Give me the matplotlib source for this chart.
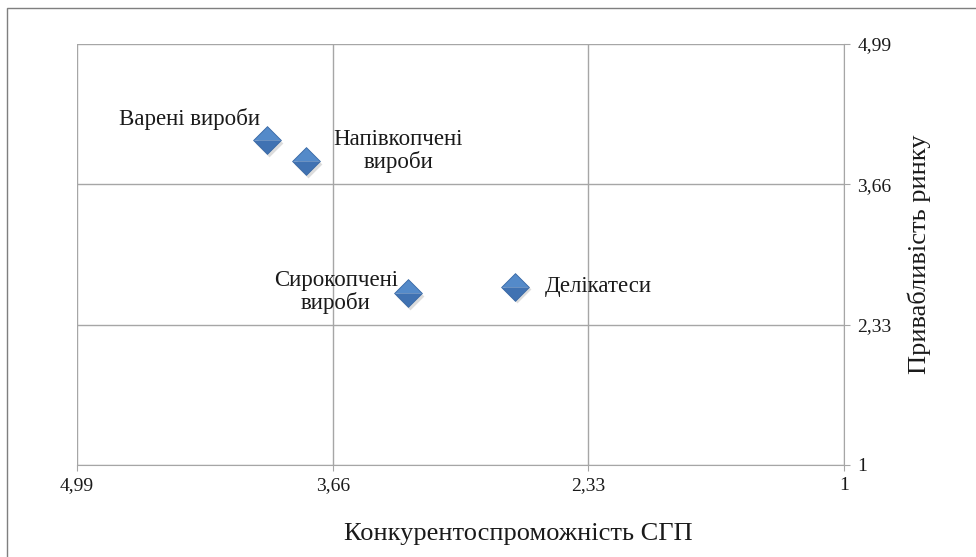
import matplotlib.pyplot as plt
import matplotlib.transforms as mtransforms
from matplotlib.path import Path
from matplotlib.patches import Rectangle

plt.rcParams['font.family'] = ['Liberation Serif', 'DejaVu Serif']

# product groups: competitiveness (x), market attractiveness (y)
names = ['Варені вироби', 'Напівкопчені\nвироби', 'Сирокопчені\nвироби', 'Делікатеси']
competitiveness = [4.00, 3.80, 3.27, 2.71]
attractiveness = [4.08, 3.88, 2.63, 2.69]

ticks = [4.99, 3.66, 2.33, 1]
tick_labels = ['4,99', '3,66', '2,33', '1']

# label offsets in points, alignment
label_pos = [((-5, 15), 'right'),
             ((20, 7), 'left'),
             ((-7, 1), 'right'),
             ((21, 0), 'left')]

fig = plt.figure(figsize=(9.76, 5.57), dpi=100)
ax = fig.add_axes([0.0789, 0.1652, 0.7859, 0.7558])

grey = '#a6a6a6'
ax.set_xlim(4.99, 1)
ax.set_ylim(1, 4.99)
ax.set_xticks(ticks)
ax.set_xticklabels(tick_labels)
ax.set_yticks(ticks)
ax.set_yticklabels(tick_labels)
ax.grid(True, color=grey, lw=1)
ax.set_axisbelow(True)
for s in ax.spines.values():
    s.set_color(grey)
ax.spines['left'].set_visible(False)
ax.spines['top'].set_visible(False)
ax.yaxis.tick_right()
ax.tick_params(axis='x', direction='out', length=4.5, color=grey, labelsize=14,
               pad=4, labelcolor='#1a1a1a')
ax.tick_params(axis='y', direction='out', length=4.5, color=grey, labelsize=14,
               pad=5, labelcolor='#1a1a1a')

# diamond markers: shadow, lighter top half, darker bottom half
top_half = Path([(-1, 0), (0, 1), (1, 0), (-1, 0)], closed=True)
bottom_half = Path([(-1, 0), (0, -1), (1, 0), (-1, 0)], closed=True)
diamond = Path([(-1, 0), (0, 1), (1, 0), (0, -1), (-1, 0)], closed=True)
shadow_tr = mtransforms.offset_copy(ax.transData, fig=fig, x=1.5, y=-2, units='points')
ax.plot(competitiveness, attractiveness, linestyle='none', marker=diamond, markersize=20,
        color='#bbbbbb', alpha=0.5, markeredgewidth=0, transform=shadow_tr, zorder=2)
ax.plot(competitiveness, attractiveness, linestyle='none', marker=top_half, markersize=20,
        markerfacecolor='#548ac9', markeredgewidth=0, zorder=3)
ax.plot(competitiveness, attractiveness, linestyle='none', marker=bottom_half, markersize=20,
        markerfacecolor='#4072b2', markeredgewidth=0, zorder=3)
ax.plot(competitiveness, attractiveness, linestyle='none', marker=diamond, markersize=20,
        markerfacecolor='none', markeredgecolor='#3a69a5', markeredgewidth=0.6, zorder=3)

for n, x, y, (off, ha) in zip(names, competitiveness, attractiveness, label_pos):
    ax.annotate(n, (x, y), xytext=off, textcoords='offset points', ha=ha, va='center',
                fontsize=16.5, multialignment='center', linespacing=1.05,
                color='#1a1a1a', zorder=4)

ax.set_xlabel('Конкурентоспроможність СГП', fontsize=19, color='#1a1a1a')
ax.xaxis.set_label_coords(0.575, -0.164)
ax.xaxis.label.set_va('center')
ax.yaxis.set_label_position('right')
ax.set_ylabel('Привабливість ринку', fontsize=19, color='#1a1a1a')
ax.yaxis.set_label_coords(1.098, 0.5)
ax.yaxis.label.set_va('center')

# outer chart frame
fig.patches.append(Rectangle((7 / 976, -0.1), 1.2, 1 - 8 / 557 + 0.1,
                             transform=fig.transFigure, fill=False,
                             edgecolor='#7f7f7f', lw=1))

fig.savefig('out.png', dpi=100)
